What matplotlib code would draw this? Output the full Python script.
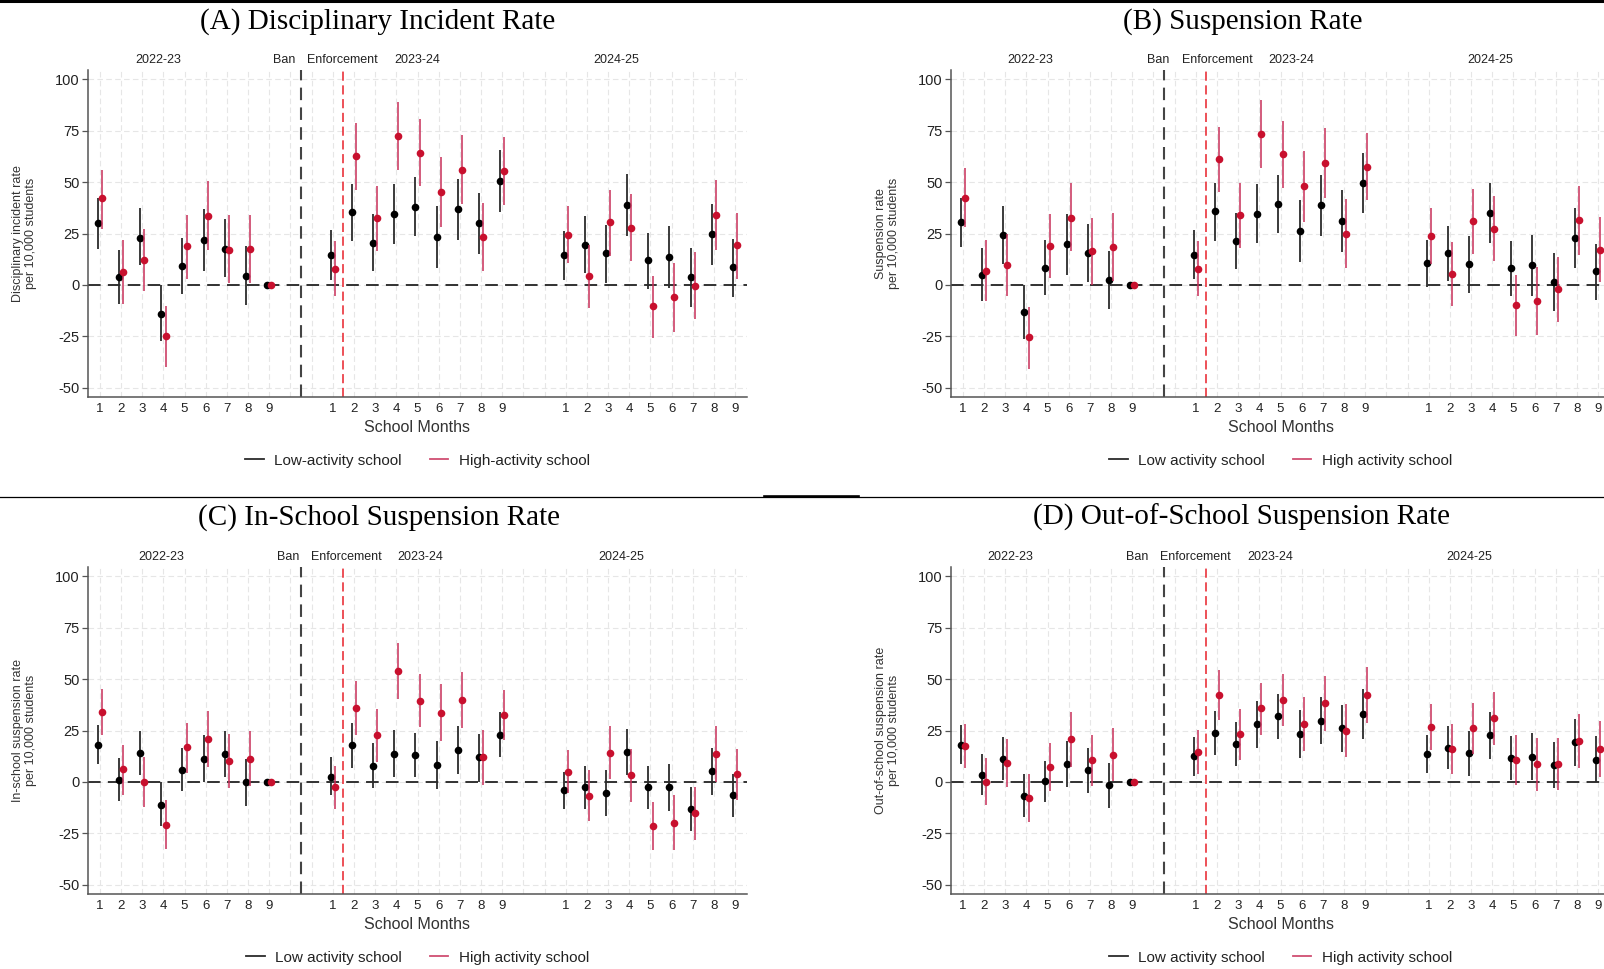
import math

import matplotlib

matplotlib.use("Agg")

import matplotlib.pyplot as plt
from matplotlib.lines import Line2D
from matplotlib.transforms import blended_transform_factory


OUT_PATH = "out.png"
NAN = math.nan

plt.rcParams["font.family"] = ["Liberation Sans", "DejaVu Sans"]

MONTHS = [1, 2, 3, 4, 5, 6, 7, 8, 9]
YEARS = ["2022-23", "2023-24", "2024-25"]
Y_TICKS = [-50, -25, 0, 25, 50, 75, 100]

TITLES = [
    "(A) Disciplinary Incident Rate",
    "(B) Suspension Rate",
    "(C) In-School Suspension Rate",
    "(D) Out-of-School Suspension Rate",
]
Y_LABELS = [
    "Disciplinary incident rate\nper 10,000 students",
    "Suspension rate\nper 10,000 students",
    "In-school suspension rate\nper 10,000 students",
    "Out-of-school suspension rate\nper 10,000 students",
]
LOW_LABELS = ["Low-activity school", "Low activity school", "Low activity school", "Low activity school"]
HIGH_LABELS = ["High-activity school", "High activity school", "High activity school", "High activity school"]

# (A) Disciplinary incident rate: 27 school months (3 years x 9)
A_LOW = [30, 4, 23, -14, 9, 22, 17.5, 4.5, 0, 14.8, 35.4, 20.5, 34.5, 37.9, 23.4, 36.7, 30, 50.6,
         14.6, 19.5, 15.4, 38.9, 11.9, 13.7, 4, 24.7, 8.5]
A_LOW_LO = [17.5, -9, 9.5, -27, -4.5, 7, 4, -9.5, NAN, 2.4, 21.3, 6.7, 19.7, 24, 8.1, 22, 15, 35.4,
            2.4, 5.7, 1, 24, -2, -1.5, -10.6, 9.8, -5.7]
A_LOW_HI = [42, 17, 37.5, 0, 23, 37, 32, 19, NAN, 26.5, 49, 34.3, 49, 52.2, 38.5, 51.7, 44.7, 65.5,
            26, 33.3, 29, 53.7, 25.4, 28.6, 18, 39.5, 22.3]
A_HIGH = [42, 6.5, 12, -25, 19, 33.5, 17, 17.5, 0, 8, 62.6, 32.4, 72.2, 64.2, 45, 56, 23.4, 55.4,
          24.4, 4.6, 30.4, 27.8, -10.4, -5.7, -0.3, 34.1, 19.2]
A_HIGH_LO = [27, -9, -3, -40, 3, 17, 1, 1, NAN, -5.5, 46.3, 16.4, 55.8, 48, 28, 39.2, 6.7, 39,
             10.6, -11.2, 14.3, 11.5, -25.9, -22.6, -16.6, 17, 2.9]
A_HIGH_HI = [56, 22, 27, -10, 34, 50.5, 34, 34, NAN, 21.6, 78.5, 48.3, 89, 80.6, 62, 72.8, 40, 71.7,
             38.4, 19.2, 46.3, 44.4, 4.6, 10.7, 16, 51.2, 35]

# (B) Suspension rate
B_LOW = [30.6, 4.9, 24.4, -13, 8.3, 20, 15.6, 2.6, 0, 14.6, 35.8, 21.5, 34.6, 39.2, 26.3, 38.7, 30.9, 49.6,
         10.7, 15.4, 10.2, 35, 8.3, 9.8, 1.3, 22.9, 6.7]
B_LOW_LO = [18.4, -8, 10.2, -26.3, -4.9, 5, 1.3, -11.7, NAN, 2.9, 21.6, 7.8, 20.3, 25.2, 11.4, 24, 16, 35,
            -1.1, 2.1, -3.9, 20.3, -5.2, -5.2, -12.7, 8.3, -7.2]
B_LOW_HI = [42.4, 18, 38.4, 0, 22, 34.3, 29.8, 16.7, NAN, 26.5, 49.6, 35, 49, 53.3, 41.1, 53.3, 46, 64,
            22, 28.6, 23.7, 49.3, 21.6, 24.4, 15.4, 37.4, 20]
B_HIGH = [42.4, 7, 9.8, -25.5, 18.9, 32.7, 16.3, 18.4, 0, 8, 61, 34, 73.2, 63.6, 48, 59, 24.9, 57.4,
          23.9, 5.4, 31.2, 27.3, -9.8, -8, -2.1, 31.7, 17.2]
B_HIGH_LO = [28, -8, -5.2, -41, 3.3, 16.3, 0, 2.1, NAN, -5.5, 45.2, 18, 56.6, 47.3, 30.6, 42, 8.3, 41.1,
             10.2, -10, 15.1, 11.5, -25, -24.4, -18, 14.8, 1.3]
B_HIGH_HI = [56.6, 22, 25, -10.6, 34.3, 49.6, 32.5, 35, NAN, 21.3, 76.9, 49.3, 89.6, 79.8, 65.2, 76, 41.6, 74,
             37.6, 20.8, 46.8, 43, 4.9, 8.6, 13.8, 48, 33]

# (C) In-school suspension rate
C_LOW = [17.9, 1.1, 14.1, -11, 6, 11.2, 13.8, -0.2, 0, 2.6, 17.9, 7.8, 13.8, 13.2, 8.3, 15.6, 11.9, 22.9,
         -3.9, -2.6, -5.2, 14.8, -2.6, -2.6, -13, 5.2, -6.3]
C_LOW_LO = [8.5, -9.4, 3.6, -21.6, -4.6, 0, 2.3, -11.9, NAN, -6.3, 6.7, -3.1, 2.3, 2.3, -3.6, 3.9, 0, 11.9,
            -13.2, -13.2, -16.4, 3.4, -13.2, -14.1, -23.9, -6.3, -16.9]
C_LOW_HI = [27.6, 11.7, 25, 0, 16.6, 23, 25, 11.2, NAN, 11.9, 28.6, 18.7, 25.4, 24, 19.7, 27, 23.4, 34,
            5, 7.8, 5.9, 25.9, 7.8, 8.8, -2.3, 16.4, 3.9]
C_HIGH = [33.8, 6.3, 0, -20.8, 16.9, 20.7, 10.4, 11.2, 0, -2.6, 35.9, 22.8, 53.8, 39.2, 33.7, 39.8, 12, 32.5,
          5, -6.7, 14.1, 3.4, -21.3, -19.7, -15.1, 13.5, 3.9]
C_HIGH_LO = [22.6, -6.2, -12.2, -32.7, 4.4, 7.2, -2.9, -2.1, NAN, -13.2, 22.9, 9.9, 40.5, 26.5, 19.7, 26.2, -1.5, 20.2,
             -5.5, -19, 1.3, -9.6, -33.2, -33.2, -28.3, 0.2, -8.8]
C_HIGH_HI = [45, 18.2, 12, -8.6, 28.8, 34.5, 23.4, 24.7, NAN, 7.8, 48.9, 35.4, 67.3, 52.2, 47.8, 53.5, 25.4, 44.9,
             15.6, 5.9, 27, 15.9, -9.6, -6.3, -2.3, 27, 15.9]

# (D) Out-of-school suspension rate
D_LOW = [17.9, 3.6, 11.4, -6.7, 0.3, 8.5, 5.9, -1.3, 0, 12.5, 23.7, 18.4, 28.1, 32, 23.4, 29.8, 26, 33,
         13.5, 16.7, 14, 22.6, 11.5, 12.2, 8.1, 19.3, 10.9]
D_LOW_LO = [8.5, -6.2, 1.1, -17.2, -9.9, -2.6, -5.4, -12.4, NAN, 2.9, 13.2, 7.8, 16.4, 20.8, 11.5, 18.4, 14.8, 20.8,
            4.2, 6.2, 2.9, 11.2, 1, 1, -3.1, 7.8, 0]
D_LOW_HI = [27.6, 13.7, 22, 3.9, 10.4, 19.8, 16.6, 9.3, NAN, 21.8, 34.3, 29.1, 39.5, 42.9, 34.8, 41.1, 37.6, 45.2,
            22.9, 27, 24.6, 33.8, 22.1, 23.7, 19.2, 30.6, 22.4]
D_HIGH = [17.4, -0.2, 9.3, -7.8, 7.2, 20.7, 10.6, 13.3, 0, 14.8, 42.3, 23.4, 35.8, 39.8, 28.3, 38.2, 24.9, 42.3,
          26.7, 15.9, 26.2, 31.1, 10.9, 8.6, 8.9, 20, 15.9]
D_HIGH_LO = [6.8, -11.4, -2.6, -19.2, -4.6, 7.3, -2.1, 0.3, NAN, 3.9, 29.9, 10.7, 22.9, 27, 15.1, 25, 11.9, 28.6,
             15.6, 3.9, 13.5, 18, -1.5, -4.4, -3.9, 7, 2.6]
D_HIGH_HI = [28.3, 11.7, 21.1, 3.9, 18.7, 34, 23, 26, NAN, 25.4, 54.6, 35.4, 48.1, 52.5, 41.1, 51.4, 37.9, 55.8,
             37.9, 28.1, 38.4, 43.7, 22.9, 21.6, 21.6, 33.2, 29.4]

PANEL_DATA = [
    (A_LOW, A_LOW_LO, A_LOW_HI, A_HIGH, A_HIGH_LO, A_HIGH_HI),
    (B_LOW, B_LOW_LO, B_LOW_HI, B_HIGH, B_HIGH_LO, B_HIGH_HI),
    (C_LOW, C_LOW_LO, C_LOW_HI, C_HIGH, C_HIGH_LO, C_HIGH_HI),
    (D_LOW, D_LOW_LO, D_LOW_HI, D_HIGH, D_HIGH_LO, D_HIGH_HI),
]

# ---- layout (pixels of a 1604x969 canvas) ----
FIG_W, FIG_H = 1604, 969
AX_W, AX_H = 659, 327
AX_LEFT = [88, 951, 88, 951]
AX_BOTTOM = [397, 397, 894, 894]
TITLE_XY = [(200, 29), (1123, 29), (198, 525), (1033, 525)]
YEAR_LABEL_X = [(3.75, 16.0, 25.4), (4.2, 16.5, 25.9), (3.9, 16.15, 25.6), (3.25, 15.5, 24.9)]
BAN_LABEL_X = [10.25, 10.75, 10.4, 9.75]
ENF_LABEL_X = [12.47, 13.0, 12.66, 12.0]
BAN_X = 10.5
ENF_X = 12.5
YEAR_GAP = 11
DOT_SHIFT = 0.1

LOW_COLOR = "#000000"
LOW_CI_COLOR = "#2b2b2b"
HIGH_COLOR = "#c8102e"
HIGH_CI_COLOR = "#c8305a"
GRID_COLOR = "#e6e6e6"
SPINE_COLOR = "#555555"


def month_positions() -> list:
    return [m + YEAR_GAP * y for y in range(len(YEARS)) for m in MONTHS]


def draw_series(ax, xs, mid, lo, hi, shift, color, ci_color, ci_alpha, z) -> None:
    for x, m, a, b in zip(xs, mid, lo, hi):
        if not (math.isnan(a) or math.isnan(b)):
            ax.plot([x + shift, x + shift], [a, b], color=ci_color, lw=1.3, alpha=ci_alpha,
                    solid_capstyle="butt", zorder=z)
    ax.plot([x + shift for x in xs], mid, linestyle="none", marker="o", markersize=5.5,
            color=color, markeredgewidth=0, zorder=z + 1)


def draw_panel(fig, idx: int) -> None:
    left = AX_LEFT[idx] / FIG_W
    bottom = 1 - AX_BOTTOM[idx] / FIG_H
    ax = fig.add_axes([left, bottom, AX_W / FIG_W, AX_H / FIG_H])
    low, low_lo, low_hi, high, high_lo, high_hi = PANEL_DATA[idx]
    xs = month_positions()

    ax.set_xlim(0.44, 31.56)
    ax.set_ylim(-54.4, 104.4)

    all_ticks = list(range(1, 32))
    ax.set_xticks(all_ticks)
    ax.set_xticklabels([str(MONTHS[(t - 1) % YEAR_GAP]) if t in xs else "" for t in all_ticks])
    ax.set_yticks(Y_TICKS)
    ax.set_yticklabels([str(t) for t in Y_TICKS])
    ax.tick_params(axis="x", length=0, pad=4.5, labelsize=9.5, labelcolor="#222222")
    ax.tick_params(axis="y", length=4.5, width=0.9, pad=1.5, labelsize=10.5, color=SPINE_COLOR,
                   labelcolor="#222222")
    ax.grid(True, color=GRID_COLOR, linestyle=(0, (5, 3)), linewidth=0.8)
    ax.set_axisbelow(True)

    for side in ("top", "right"):
        ax.spines[side].set_visible(False)
    for side in ("left", "bottom"):
        ax.spines[side].set_color(SPINE_COLOR)
        ax.spines[side].set_linewidth(1.1)

    ax.axhline(0, color="#222222", lw=1.3, linestyle=(0, (7, 4)), zorder=1)
    ax.axvline(BAN_X, color="#444444", lw=1.5, linestyle=(0, (6, 3.5)), zorder=1)
    ax.axvline(ENF_X, color="#e8202a", lw=1.1, linestyle=(0, (6, 3)), zorder=1)

    draw_series(ax, xs, low, low_lo, low_hi, -DOT_SHIFT, LOW_COLOR, LOW_CI_COLOR, 1.0, 3)
    draw_series(ax, xs, high, high_lo, high_hi, DOT_SHIFT, HIGH_COLOR, HIGH_CI_COLOR, 0.85, 5)

    trans = blended_transform_factory(ax.transData, ax.transAxes)
    label_y = 1.032
    for year, x in zip(YEARS, YEAR_LABEL_X[idx]):
        ax.text(x, label_y, year, transform=trans, ha="center", va="center", fontsize=9, color="#222222")
    ax.text(BAN_LABEL_X[idx], label_y, "Ban", transform=trans, ha="right", va="center", fontsize=9,
            color="#222222")
    ax.text(ENF_LABEL_X[idx], label_y, "Enforcement", transform=trans, ha="center", va="center",
            fontsize=9, color="#222222")

    ax.set_ylabel(Y_LABELS[idx], fontsize=9, color="#333333", linespacing=1.1)
    ax.yaxis.set_label_coords(-0.077, 0.5)
    ax.set_xlabel("School Months", fontsize=11.5, color="#333333")
    ax.xaxis.set_label_coords(0.5, -0.07)

    handles = [
        Line2D([], [], color=LOW_CI_COLOR, lw=1.3),
        Line2D([], [], color=HIGH_CI_COLOR, lw=1.3, alpha=0.85),
    ]
    ax.legend(handles, [LOW_LABELS[idx], HIGH_LABELS[idx]], loc="center", bbox_to_anchor=(0.5, -0.195),
              ncol=2, frameon=False, fontsize=11, handlelength=1.2, handletextpad=0.7,
              columnspacing=1.8, labelcolor="#222222")

    tx, ty = TITLE_XY[idx]
    fig.text(tx / FIG_W, 1 - ty / FIG_H, TITLES[idx], ha="left", va="baseline",
             fontsize=21, family=["Liberation Serif", "DejaVu Serif"], color="#000000")


def draw_separators(fig) -> None:
    def hline(y_px, x0_px, x1_px, lw):
        y = 1 - y_px / FIG_H
        fig.add_artist(Line2D([x0_px / FIG_W, x1_px / FIG_W], [y, y], color="#000000", lw=lw,
                              transform=fig.transFigure))

    hline(1.0, 0, FIG_W, 2.2)
    hline(497, 0, FIG_W, 0.9)
    hline(496, 764, 858, 1.9)


def main() -> None:
    fig = plt.figure(figsize=(FIG_W / 100, FIG_H / 100), dpi=100)
    fig.patch.set_facecolor("white")
    for idx in range(len(TITLES)):
        draw_panel(fig, idx)
    draw_separators(fig)
    fig.savefig(OUT_PATH, dpi=100, facecolor="white")
    plt.close(fig)


if __name__ == "__main__":
    main()
